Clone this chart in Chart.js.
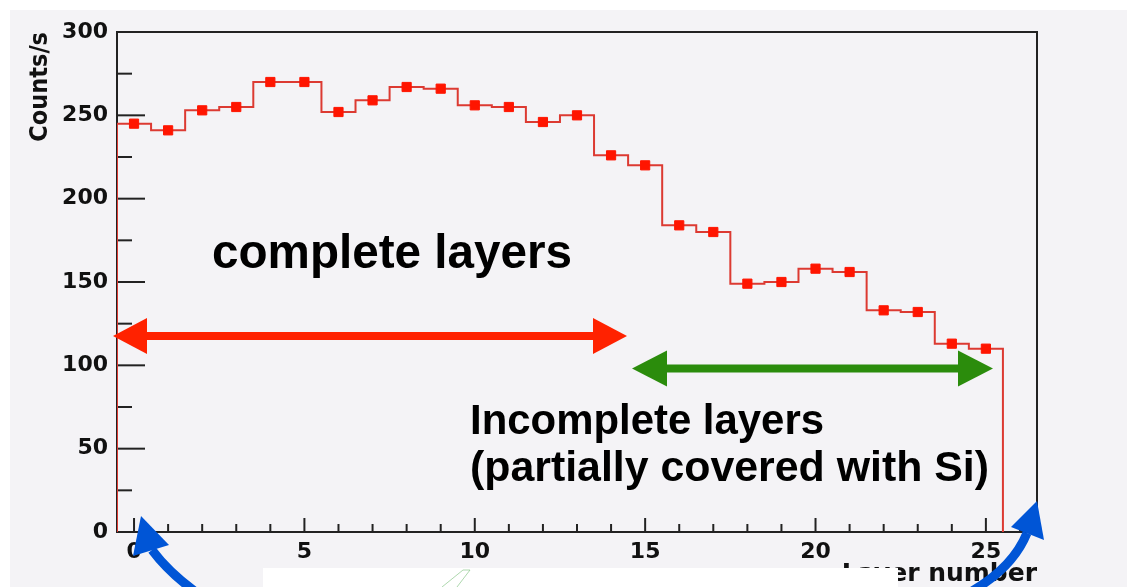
<!DOCTYPE html>
<html>
<head>
<meta charset="utf-8">
<script src="https://cdn.jsdelivr.net/npm/chart.js@4.4.1/dist/chart.umd.min.js"></script>
<style>
  html, body { margin: 0; padding: 0; background: #fff; }
  #wrap { width: 1127px; height: 587px; }
</style>
</head>
<body>
<div id="wrap"><canvas id="myChart" width="1127" height="587"></canvas></div>
<script>
// layer index (bin centre) and measured rate per layer
var layers = [0, 1, 2, 3, 4, 5, 6, 7, 8, 9, 10, 11, 12, 13, 14, 15, 16, 17, 18, 19, 20, 21, 22, 23, 24, 25];
var counts = [245, 241, 253, 255, 270, 270, 252, 259, 267, 266, 256, 255, 246, 250, 226, 220, 184, 180, 149, 150, 158, 156, 133, 132, 113, 110];
var xTickLabels = [0, 5, 10, 15, 20, 25];
var yTickLabels = [0, 50, 100, 150, 200, 250, 300];

// histogram outline from bin edges
var outline = [{ x: layers[0] - 0.5, y: 0 }];
layers.forEach(function (l, i) {
    outline.push({ x: l - 0.5, y: counts[i] });
});
outline.push({ x: layers[layers.length - 1] + 0.5, y: 0 });

var markers = layers.map(function (l, i) {
    return { x: l, y: counts[i] };
});

function line(ctx, x1, y1, x2, y2) {
    ctx.beginPath();
    ctx.moveTo(x1, y1);
    ctx.lineTo(x2, y2);
    ctx.stroke();
}

function fitText(ctx, text, x, baseline, width, font) {
    ctx.save();
    ctx.font = font;
    ctx.fillStyle = "#000";
    ctx.textBaseline = "alphabetic";
    ctx.textAlign = "left";
    var w = ctx.measureText(text).width;
    ctx.translate(x, baseline);
    ctx.scale(width / w, 1);
    ctx.fillText(text, 0, 0);
    ctx.restore();
}

function doubleArrow(ctx, x1, x2, y, color, shaft, headLen, headHalf) {
    ctx.save();
    ctx.fillStyle = color;
    ctx.fillRect(x1 + headLen - 2, y - shaft / 2, x2 - x1 - 2 * headLen + 4, shaft);
    ctx.beginPath();
    ctx.moveTo(x1, y);
    ctx.lineTo(x1 + headLen, y - headHalf);
    ctx.lineTo(x1 + headLen, y + headHalf);
    ctx.closePath();
    ctx.fill();
    ctx.beginPath();
    ctx.moveTo(x2, y);
    ctx.lineTo(x2 - headLen, y - headHalf);
    ctx.lineTo(x2 - headLen, y + headHalf);
    ctx.closePath();
    ctx.fill();
    ctx.restore();
}

function curvedArrow(ctx, start, ctrl, end, tip, c1, c2, color) {
    ctx.save();
    ctx.strokeStyle = color;
    ctx.fillStyle = color;
    ctx.lineWidth = 9;
    ctx.beginPath();
    ctx.moveTo(start[0], start[1]);
    ctx.quadraticCurveTo(ctrl[0], ctrl[1], end[0], end[1]);
    ctx.stroke();
    ctx.beginPath();
    ctx.moveTo(tip[0], tip[1]);
    ctx.lineTo(c1[0], c1[1]);
    ctx.lineTo(c2[0], c2[1]);
    ctx.closePath();
    ctx.fill();
    ctx.restore();
}

var rootStyle = {
    id: "rootStyle",
    beforeDraw: function (chart) {
        var ctx = chart.ctx;
        ctx.save();
        ctx.fillStyle = "#ffffff";
        ctx.fillRect(0, 0, chart.width, chart.height);
        ctx.fillStyle = "#f4f3f6";
        ctx.fillRect(10, 10, chart.width - 10, chart.height - 10);
        ctx.restore();
    },
    beforeDatasetsDraw: function (chart) {
        var ctx = chart.ctx, a = chart.chartArea;
        var xs = chart.scales.x, ys = chart.scales.y;
        ctx.save();
        ctx.strokeStyle = "#222";
        ctx.lineWidth = 2;
        ctx.strokeRect(a.left, a.top, a.right - a.left, a.bottom - a.top);
        for (var v = 0; v <= 300; v += 25) {
            var py = ys.getPixelForValue(v);
            line(ctx, a.left, py, a.left + (v % 50 === 0 ? 28 : 15), py);
        }
        for (var k = 0; k <= 26; k++) {
            var px = xs.getPixelForValue(k);
            line(ctx, px, a.bottom, px, a.bottom - (k % 5 === 0 ? 14 : 8));
        }
        ctx.restore();
    },
    afterDraw: function (chart) {
        var ctx = chart.ctx;
        doubleArrow(ctx, 113, 627, 336, "#ff2200", 8, 34, 18);
        doubleArrow(ctx, 632, 993, 368.5, "#2b8c0c", 8, 35, 18);

        fitText(ctx, "complete layers", 212, 268, 360, 'bold 49px "Liberation Sans", Arial, sans-serif');
        fitText(ctx, "Incomplete layers", 470, 434, 354, 'bold 42px "Liberation Sans", Arial, sans-serif');
        fitText(ctx, "(partially covered with Si)", 470, 481, 519, 'bold 42px "Liberation Sans", Arial, sans-serif');

        // white strip at the bottom
        ctx.save();
        ctx.fillStyle = "#ffffff";
        ctx.fillRect(263, 568, 635, 19);
        ctx.strokeStyle = "rgba(120, 190, 120, 0.6)";
        ctx.lineWidth = 1;
        line(ctx, 442, 587, 463, 570);
        line(ctx, 457, 587, 470, 570);
        line(ctx, 463, 570, 470, 570);
        ctx.restore();

        curvedArrow(ctx, [200, 595], [170, 574], [152, 550], [141, 516], [133, 556], [169, 545], "#0055d6");
        curvedArrow(ctx, [965, 595], [1012, 570], [1027, 533], [1037, 501], [1011, 527], [1044, 540], "#0055d6");
    }
};

var ctx = document.getElementById("myChart").getContext("2d");
var myChart = new Chart(ctx, {
    type: "scatter",
    data: {
        datasets: [
            {
                label: "outline",
                data: outline,
                showLine: true,
                stepped: true,
                borderColor: "#dc3a32",
                borderWidth: 2,
                pointRadius: 0,
                order: 2
            },
            {
                label: "Counts/s",
                data: markers,
                showLine: false,
                pointStyle: "rect",
                pointRadius: 6.5,
                pointBackgroundColor: "#ff1500",
                pointBorderColor: "#ff1500",
                pointBorderWidth: 1,
                order: 1
            }
        ]
    },
    options: {
        responsive: false,
        animation: false,
        layout: { padding: { top: 32, right: 90, left: 0, bottom: 0 } },
        plugins: {
            legend: { display: false },
            tooltip: { enabled: false }
        },
        scales: {
            x: {
                type: "linear",
                min: -0.5,
                max: 26.5,
                afterBuildTicks: function (scale) {
                    scale.ticks = xTickLabels.map(function (v) { return { value: v }; });
                },
                afterFit: function (scale) { scale.height = 55; },
                grid: { display: false, drawTicks: false },
                border: { display: false },
                ticks: {
                    autoSkip: false,
                    maxRotation: 0,
                    padding: 7,
                    color: "#111",
                    font: { family: "DejaVu Sans", size: 22, weight: "bold" }
                },
                title: {
                    display: true,
                    text: "Layer number",
                    align: "end",
                    color: "#111",
                    padding: 0,
                    font: { family: "DejaVu Sans", size: 25, weight: "bold", lineHeight: 1.04 }
                }
            },
            y: {
                min: 0,
                max: 300,
                afterBuildTicks: function (scale) {
                    scale.ticks = yTickLabels.map(function (v) { return { value: v }; });
                },
                afterFit: function (scale) { scale.width = 117; },
                grid: { display: false, drawTicks: false },
                border: { display: false },
                ticks: {
                    padding: 9,
                    color: "#111",
                    font: { family: "DejaVu Sans", size: 22, weight: "bold" }
                },
                title: {
                    display: true,
                    text: "Counts/s",
                    align: "end",
                    color: "#111",
                    padding: { top: 27 },
                    font: { family: "DejaVu Sans Condensed, DejaVu Sans", size: 25, weight: "bold", lineHeight: 1.1 }
                }
            }
        }
    },
    plugins: [rootStyle]
});
</script>
</body>
</html>
